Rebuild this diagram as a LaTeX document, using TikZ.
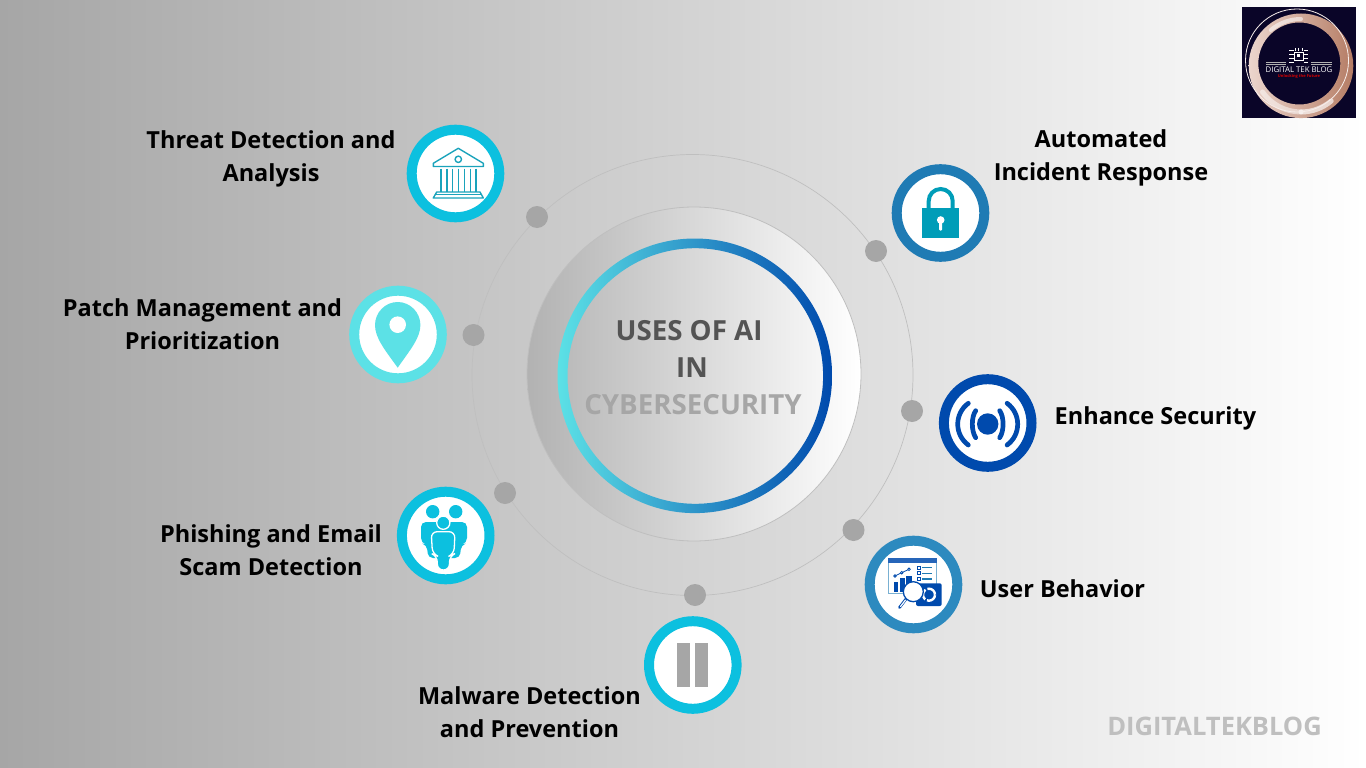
\documentclass[tikz,border=0pt]{standalone}
\usepackage{fontspec}
\setmainfont{Open Sans}
\definecolor{cCyan}{HTML}{0CC0DF}
\definecolor{cAqua}{HTML}{5CE1E6}
\definecolor{cRoyal}{HTML}{004AAD}
\definecolor{cSteel}{HTML}{1F7BB4}
\definecolor{cSteelB}{HTML}{2D8ABF}
\definecolor{cGrey}{HTML}{A6A6A6}
\definecolor{cDiscL}{HTML}{B2B2B2}
\definecolor{cMid}{HTML}{DADADA}
\definecolor{cTeal}{HTML}{009DB8}
\definecolor{cBank}{HTML}{1AA3BB}
\definecolor{cNavy}{HTML}{0A0528}
\definecolor{cCopper}{HTML}{C98A70}
\tikzset{
  iconring/.style={circle,draw=#1,fill=white,line width=10pt,minimum size=87.6pt,inner sep=0pt},
  dotmark/.style={circle,fill=cGrey,draw=none,minimum size=22pt,inner sep=0pt},
  label/.style={font=\fontsize{23.5}{33}\selectfont\bfseries,align=center,text=black,inner sep=0pt},
  title/.style={font=\fontsize{27.7}{30}\selectfont\bfseries,inner sep=0pt},
  bank/.style={draw=cBank,line width=1.4pt,line join=round},
  sig/.style={cRoyal,line width=4.7pt,line cap=round},
  glow/.style={white,line cap=round},
}
\begin{document}
\begin{tikzpicture}[x=1pt,y=-1pt]
\useasboundingbox (0,0) rectangle (1366,768);
\shade[left color=cGrey,right color=white] (0,0) rectangle (1366,768);
% orbit and disc
\draw[draw=black!25,line width=0.7pt] (692.5,375) circle (220.5pt);
\shade[left color=cDiscL,middle color=cMid,right color=white,draw=black!25,line width=0.8pt] (694,374) circle (167pt);
\shade[left color=cAqua,right color=cRoyal,even odd rule] (694.8,375.8) circle (137.3pt) (695.3,376) circle (127.8pt);
% dots
\node[dotmark] (d1) at (537,217) {};
\node[dotmark] (d2) at (876,251) {};
\node[dotmark] (d3) at (473.5,335) {};
\node[dotmark] (d4) at (912,411) {};
\node[dotmark] (d5) at (505,493) {};
\node[dotmark] (d6) at (853.5,530) {};
\node[dotmark] (d7) at (695,595) {};
% centre title
\node[title,text=black!67] (t1) at (689,331) {USES OF AI};
\node[title,text=black!67] (t2) at (692,368) {IN};
\node[title,text=cGrey] (t3) at (693,404.5) {CYBERSECURITY};
% rings
\node[iconring=cCyan] (threat) at (455.5,173.5) {};
\node[iconring=cSteel] (auto) at (940.5,213) {};
\node[iconring=cAqua] (patch) at (398,334.5) {};
\node[iconring=cRoyal] (enh) at (987.7,423) {};
\node[iconring=cCyan] (phish) at (445.7,535.5) {};
\node[iconring=cSteelB] (user) at (913.5,584.5) {};
\node[iconring=cCyan] (mal) at (692.8,665) {};
% labels
\node[label] (l1) at (271,159) {Threat Detection and\\Analysis};
\node[label] (l2) at (1101,157.5) {Automated\\Incident Response};
\node[label] (l3) at (202.5,324.5) {Patch Management and\\Prioritization};
\node[label] (l4) at (1155.5,418) {Enhance Security};
\node[label] (l5) at (271,550.5) {Phishing and Email\\Scam Detection};
\node[label] (l6) at (1062.5,589) {User Behavior};
\node[label] (l7) at (529.5,712.5) {Malware Detection\\and Prevention};
\node[font=\fontsize{25.5}{30}\selectfont\bfseries,text=black!25,inner sep=0pt] (brand) at (1214.5,726) {DIGITALTEKBLOG};
% bank icon
\draw[bank] (458.3,148.3) -- (433.3,163.3) -- (433.3,166.5) -- (483.3,166.5) -- (483.3,163.3) -- cycle;
\draw[bank] (458.3,159.3) circle (3.2pt);
\foreach \xx in {441,446.8,452.7,458.5,464.3,470.2,476}
  \draw[bank] (\xx,168.5) -- (\xx,191.5);
\draw[bank] (436.7,192) -- (480,192) -- (483.3,198) -- (433.3,198) -- cycle;
\draw[bank] (435,194.5) -- (481.5,194.5);
% lock icon
\draw[cTeal,line width=4pt] (928.7,208) -- (928.7,201) arc[start angle=180,end angle=0,radius=12pt] -- (952.7,208);
\fill[cTeal] (921.7,207.7) rectangle (959,237.7);
\fill[white] (940.7,220) circle (3.8pt);
\fill[white,rounded corners=1pt] (939.2,220) rectangle (942.2,230.5);
% pin icon
\fill[cAqua] (397.7,367.7) .. controls (385,350) and (375,338) .. (375,325) .. controls (375,312.5) and (385.2,302) .. (397.7,302) .. controls (410.2,302) and (420.4,312.5) .. (420.4,325) .. controls (420.4,338) and (410,350) .. cycle;
\fill[white] (397.7,324.7) circle (8.3pt);
% signal icon
\fill[cRoyal] (987.7,424) circle (10.7pt);
\draw[sig] (975.7,410.7) .. controls (971.2,417) and (971.2,431) .. (975.7,437.7);
\draw[sig] (968.3,403.3) .. controls (954.2,413.7) and (954.2,434.6) .. (968.3,445);
\draw[sig] (999.7,410.7) .. controls (1004.2,417) and (1004.2,431) .. (999.7,437.7);
\draw[sig] (1007.1,403.3) .. controls (1021.2,413.7) and (1021.2,434.6) .. (1007.1,445);
% pause icon
\fill[cGrey] (677,643) rectangle (690,687);
\fill[cGrey] (695,643) rectangle (708,687);
% people icon
\fill[cCyan] (432.7,511.7) circle (6.7pt);
\fill[cCyan] (455.7,511.7) circle (6.7pt);
\fill[cCyan,rounded corners=5pt] (421,522) -- (446,522) -- (446,558) -- (428,558) -- (427,545) -- (421,543) -- cycle;
\fill[cCyan,rounded corners=5pt] (467,522) -- (442,522) -- (442,558) -- (460,558) -- (461,545) -- (467,543) -- cycle;
\draw[fill=cCyan,draw=white,line width=1.3pt] (443.3,522.7) circle (6.6pt);
\draw[fill=cCyan,draw=white,line width=1.3pt,rounded corners=6pt] (431.2,531.7) -- (455,531.7) -- (454,554) -- (449.5,556) -- (449.5,570) -- (437.3,570) -- (437.3,556) -- (432.5,554) -- cycle;
% analytics icon
\draw[draw=cSteel!60,fill=white,line width=1pt] (888.3,558.3) rectangle (936.7,593.3);
\fill[cRoyal!85] (888.3,558.3) rectangle (936.7,562.5);
\draw[cRoyal,line width=0.8pt] (895,576) -- (901.7,572.7) -- (909,569.3);
\foreach \px/\py in {895/576,901.7/572.7,909/569.3} \draw[cRoyal,fill=white,line width=0.8pt] (\px,\py) circle (1.3pt);
\fill[cRoyal] (893.5,581.7) rectangle (898.3,592);
\fill[cRoyal] (899.5,578.3) rectangle (905,592);
\fill[cRoyal] (906,576) rectangle (911.5,592);
\foreach \py in {567.7,573.3,579}{
  \draw[cRoyal,line width=0.8pt] (917.3,\py-1.5) rectangle (920.3,\py+1.5);
  \draw[cSteel,line width=1.1pt] (922.3,\py) -- (931.7,\py);
}
\fill[cRoyal,rounded corners=2pt] (916,583.3) rectangle (941.7,606);
\draw[white,line width=2.4pt,dash pattern=on 11pt off 2pt] (929,594.7) circle (6pt);
\draw[cRoyal,line width=2.8pt,line cap=round] (906,599) -- (899.5,607.5);
\draw[white,line width=1.2pt,line cap=round] (905.5,600) -- (900.5,606.5);
\draw[cRoyal,fill=white,line width=1.3pt] (913.3,591.7) circle (10pt);
% logo
\fill[cNavy] (1242,7.3) rectangle (1356,118.3);
\shade[left color=white!65!cCopper,right color=cCopper!90!black,even odd rule] (1301,65.8) circle (52.3pt) (1299.3,63.5) circle (41pt);
\draw[glow,line width=5pt,opacity=0.5] (1301,112) arc[start angle=270,end angle=215,radius=47pt];
\draw[glow,line width=5pt,opacity=0.65] (1301,112) arc[start angle=270,end angle=310,radius=47pt];
\draw[glow,line width=4pt,opacity=0.55] (1301,19) arc[start angle=90,end angle=130,radius=47pt];
\draw[white!85!cCopper,line width=0.8pt] (1297,60.5) circle (51.5pt);
\foreach \yy in {62.3,64.5}{
  \draw[black!30,line width=0.6pt] (1266,\yy) -- (1286,\yy);
  \draw[black!30,line width=0.6pt] (1311,\yy) -- (1332,\yy);
}
\draw[white,line width=0.9pt] (1294,52) rectangle (1303,60);
\fill[white] (1297,54.5) rectangle (1300,57.5);
\foreach \yy in {50,54,58,62}{
  \draw[white,line width=0.7pt] (1289,\yy) -- (1293.5,\yy);
  \draw[white,line width=0.7pt] (1303.5,\yy) -- (1308,\yy);
}
\foreach \xx in {1295,1298.5,1302}{
  \draw[white,line width=0.7pt] (\xx,48) -- (\xx,51.5);
}
\node[text=white,font=\fontsize{7.8}{10}\selectfont,inner sep=0pt] (lg1) at (1299,69.7) {DIGITAL TEK BLOG};
\node[text=red!85!black,font=\fontsize{4}{5}\selectfont\bfseries,inner sep=0pt] (lg2) at (1299,76.7) {Unlocking the Future};
\end{tikzpicture}
\end{document}
